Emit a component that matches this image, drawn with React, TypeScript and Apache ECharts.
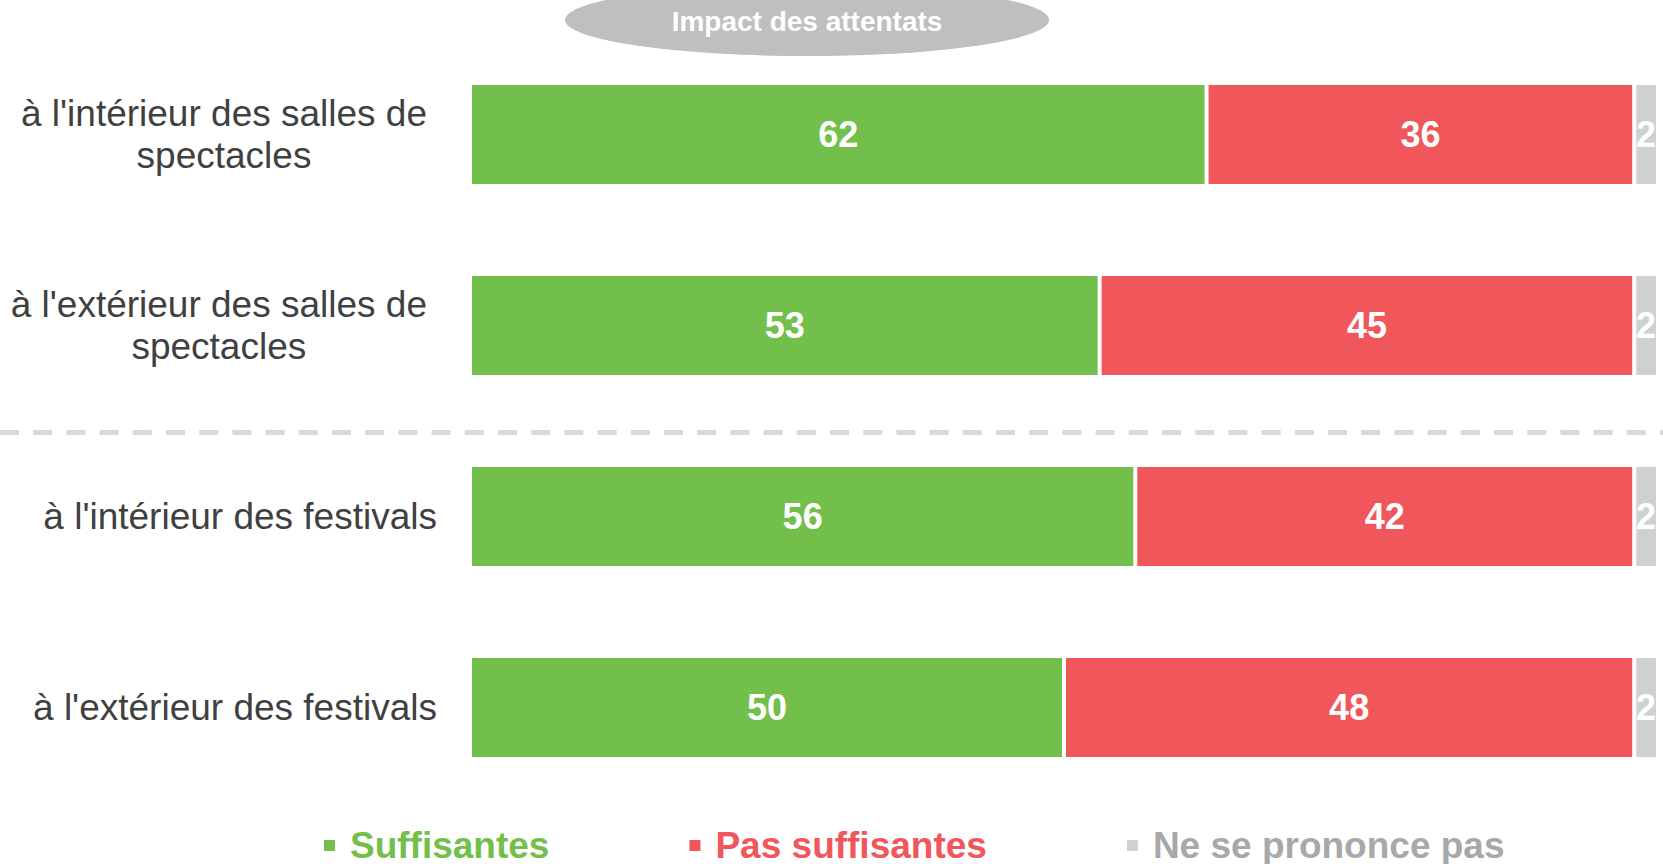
import React, { useEffect, useRef } from "react";
import * as echarts from "echarts";

const categories = [
  "à l'intérieur des salles de\nspectacles",
  "à l'extérieur des salles de\nspectacles",
  "à l'intérieur des festivals",
  "à l'extérieur des festivals",
];
const suffisantes = [62, 53, 56, 50];
const pasSuffisantes = [36, 45, 42, 48];
const nspp = [2, 2, 2, 2];
const seriesNames = ["Suffisantes", "Pas suffisantes", "Ne se prononce pas"];
const titleText = "Impact des attentats";

const FONT = "'Liberation Sans', Arial, Helvetica, sans-serif";
const GREEN = "#72BF4C";
const RED = "#F0565A";
const GRAY = "#D0D0D0";

export default function App() {
  const ref = useRef<HTMLDivElement>(null);
  useEffect(() => {
    if (!ref.current) return;
    const chart = echarts.init(ref.current, null, { renderer: "svg" });
    const barCommon = {
      type: "bar",
      stack: "total",
      barWidth: 103,
      label: {
        show: true,
        position: "inside",
        color: "#fff",
        fontFamily: FONT,
        fontWeight: "bold",
        fontSize: 36,
      },
    };
    chart.setOption({
      animation: false,
      grid: { left: 470, right: 5, top: 39, bottom: 61 },
      xAxis: { type: "value", min: 0, max: 100, show: false },
      yAxis: {
        type: "category",
        inverse: true,
        data: categories,
        axisLine: { show: false },
        axisTick: { show: false },
        splitLine: { show: false },
        axisLabel: {
          margin: 33,
          align: "right",
          formatter: (v: string) => {
            const lines = v.split("\n");
            if (lines.length > 1) return lines.map((l) => `{m|${l}}`).join("\n");
            return `{s|${v}}`;
          },
          rich: {
            m: {
              align: "center",
              padding: [0, 10, 0, 0],
              fontFamily: FONT,
              fontSize: 37,
              lineHeight: 42,
              color: "#404040",
            },
            s: {
              fontFamily: FONT,
              fontSize: 37,
              lineHeight: 42,
              color: "#404040",
            },
          },
        },
      },
      legend: {
        left: 322,
        top: 827,
        padding: 0,
        icon: "rect",
        itemWidth: 13,
        itemHeight: 13,
        itemGap: 138,
        textStyle: {
          fontFamily: FONT,
          fontWeight: "bold",
          fontSize: 37,
          lineHeight: 34,
          padding: [0, 0, 0, 9],
        },
        data: [
          { name: seriesNames[0], textStyle: { color: GREEN } },
          { name: seriesNames[1], textStyle: { color: RED } },
          { name: seriesNames[2], textStyle: { color: "#A8A8A8" } },
        ],
      },
      series: [
        {
          ...barCommon,
          name: seriesNames[0],
          data: suffisantes,
          itemStyle: { color: GREEN, borderColor: "#fff", borderWidth: 2 },
        },
        {
          ...barCommon,
          name: seriesNames[1],
          data: pasSuffisantes,
          itemStyle: { color: RED, borderColor: "#fff", borderWidth: 2 },
        },
        {
          ...barCommon,
          name: seriesNames[2],
          data: nspp,
          itemStyle: { color: GRAY, borderColor: "#fff", borderWidth: 2 },
        },
      ],
      graphic: [
        {
          type: "line",
          shape: { x1: 0, y1: 432.5, x2: 1663, y2: 432.5 },
          style: { stroke: "#D9D9D9", lineWidth: 5, lineDash: [19, 14.2] },
          z: 1,
        },
        {
          type: "ellipse",
          shape: { cx: 807, cy: 20, rx: 242, ry: 36 },
          style: { fill: "#BFBFBF" },
          z: 1,
        },
        {
          type: "text",
          x: 807,
          y: 21,
          style: {
            text: titleText,
            fill: "#fff",
            font: `bold 28px ${FONT}`,
            textAlign: "center",
            textVerticalAlign: "middle",
          },
          z: 2,
        },
      ],
    });
    return () => chart.dispose();
  }, []);
  return (
    <div
      ref={ref}
      style={{ position: "fixed", left: 0, top: 0, width: 1663, height: 864, background: "#fff" }}
    />
  );
}
